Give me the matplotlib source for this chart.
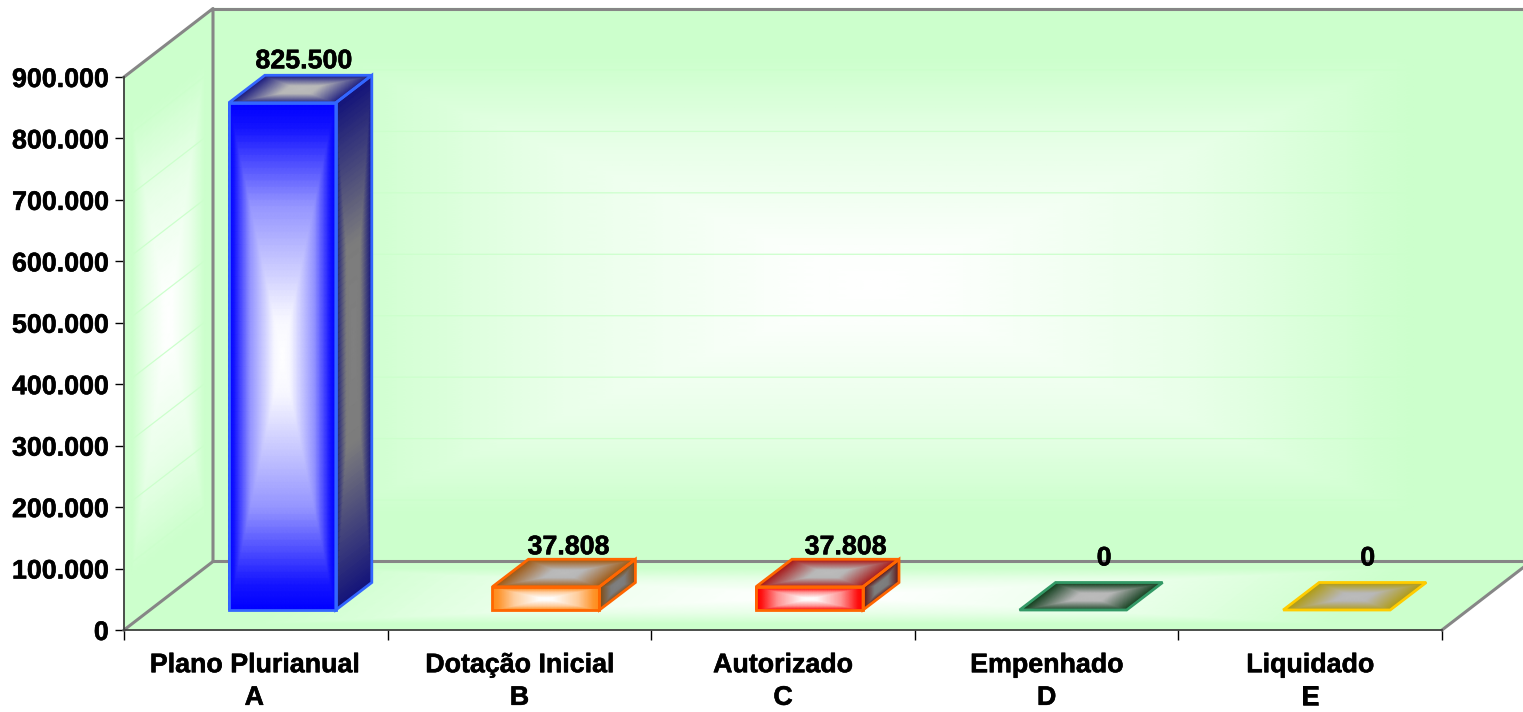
import numpy as np
import matplotlib
matplotlib.use("Agg")
import matplotlib.pyplot as plt
import matplotlib.patheffects as pe
from matplotlib.colors import LinearSegmentedColormap
from matplotlib.patches import Polygon
from matplotlib.text import Text
from matplotlib.transforms import ScaledTranslation

categories = ["Plano Plurianual\nA", "Dotação Inicial\nB", "Autorizado\nC", "Empenhado\nD", "Liquidado\nE"]
values = [825500, 37808, 37808, 0, 0]
value_labels = ["825.500", "37.808", "37.808", "0", "0"]
y_ticks = [0, 100000, 200000, 300000, 400000, 500000, 600000, 700000, 800000, 900000]

edge_colors = ["#3366ff", "#ff6600", "#ff6600", "#339966", "#ffcc00"]
front_colors = ["#0000ff", "#ff8c1a", "#ff0000", "#006633", "#c8aa00"]
side_colors = ["#14147a", "#804c14", "#601414", "#1e4a30", "#8a7a10"]
top_colors = ["#1c1c80", "#a05a14", "#a81818", "#14401f", "#b09c14"]

plt.rcParams["font.family"] = ["Liberation Sans", "DejaVu Sans"]
FS = 19.3

W, H = 1523, 712
fig = plt.figure(figsize=(W / 100, H / 100), dpi=100)
ax = fig.add_axes([124 / W, 1 - 630 / H, 1318 / W, 553 / H])
ax.patch.set_visible(False)
ax.set_xlim(0, 5)
ax.set_ylim(0, 900000)

# pixel -> data units
XU = 5 / 1318
YU = 900000 / 553
wall_dx, wall_dy = 89 * XU, 68.5 * YU
off_dx, off_dy = 26.5 * XU, 20 * YU
dep_dx, dep_dy = 36 * XU, 27.5 * YU
bar_w = 107 * XU


def mix(a, b, f):
    ca, cb = np.array(matplotlib.colors.to_rgb(a)), np.array(matplotlib.colors.to_rgb(b))
    return tuple(ca + (cb - ca) * f)


def face(p0, ex, ey, stops, z, n=80):
    # rectangular path gradient on a parallelogram
    u, v = np.meshgrid(np.linspace(0, 1, n), np.linspace(0, 1, n))
    X = p0[0] + u * ex[0] + v * ey[0]
    Y = p0[1] + u * ex[1] + v * ey[1]
    t = np.maximum(np.abs(2 * u - 1), np.abs(2 * v - 1))
    cm = LinearSegmentedColormap.from_list("f", stops)
    m = ax.pcolormesh(X, Y, t, cmap=cm, vmin=0, vmax=1, shading="gouraud", zorder=z)
    m.set_clip_on(False)


def outline(pts, color, lw, z):
    ax.add_patch(Polygon(pts, closed=True, fill=False, edgecolor=color, lw=lw, zorder=z,
                         clip_on=False, joinstyle="miter"))


green = "#ccffcc"
wall_stops = [(0, "#ffffff"), (0.12, "#fcfffc"), (0.5, "#e8ffe8"), (0.82, green), (1, green)]
ymax = 900000

# back wall, left wall, floor
face((wall_dx, wall_dy), (5, 0), (0, ymax), wall_stops, 1)
face((0, 0), (wall_dx, wall_dy), (0, ymax), wall_stops, 1)
face((0, 0), (5, 0), (wall_dx, wall_dy), wall_stops, 1)

# faint gridlines
for v in y_ticks[1:]:
    ax.plot([0, wall_dx, 5 + wall_dx], [v, v + wall_dy, v + wall_dy], color=green, lw=0.9,
            zorder=2, clip_on=False)

# wall frame
gray = "#868686"
ax.plot([0, wall_dx, wall_dx], [ymax, ymax + wall_dy, wall_dy], color=gray, lw=2.2, zorder=3, clip_on=False)
ax.plot([wall_dx, 5 + wall_dx], [ymax + wall_dy, ymax + wall_dy], color=gray, lw=2.2, zorder=3, clip_on=False)
ax.plot([0, wall_dx, 5 + wall_dx], [0, wall_dy, wall_dy], color=gray, lw=2.2, zorder=3, clip_on=False)
ax.plot([5, 5 + wall_dx], [0, wall_dy], color=gray, lw=2.2, zorder=3, clip_on=False)

# bars
label_dx = [21.5, 22.5, 36, 31, 31]
label_dy = [1, -1, -1, 11, 11]
for i, val in enumerate(values):
    x0 = i + 0.5 - bar_w / 2 + off_dx
    y0 = off_dy
    x1 = x0 + bar_w
    y1 = y0 + val
    ec = edge_colors[i]
    if val > 0:
        fc = front_colors[i]
        front_stops = [(0, "#ffffff"), (0.15, mix("#ffffff", fc, 0.03)), (0.6, mix("#ffffff", fc, 0.42)),
                       (0.9, mix("#ffffff", fc, 0.92)), (1, fc)]
        side_stops = [(0, "#808080"), (0.4, "#7c7c7c"), (1, side_colors[i])]
        face((x0, y0), (bar_w, 0), (0, val), front_stops, 5)
        face((x1, y0), (dep_dx, dep_dy), (0, val), side_stops, 5)
        outline([(x0, y0), (x1, y0), (x1, y1), (x0, y1)], ec, 2, 6)
        outline([(x1, y0), (x1 + dep_dx, y0 + dep_dy), (x1 + dep_dx, y1 + dep_dy), (x1, y1)], ec, 2, 6)
    top_stops = [(0, "#bcbcbc"), (0.3, "#b8b8b8"), (1, top_colors[i])]
    face((x0, y1), (bar_w, 0), (dep_dx, dep_dy), top_stops, 5)
    outline([(x0, y1), (x1, y1), (x1 + dep_dx, y1 + dep_dy), (x0 + dep_dx, y1 + dep_dy)], ec, 2, 6)
    ax.text(i + 0.5 + off_dx + label_dx[i] * XU, y1 + dep_dy + label_dy[i] * YU, value_labels[i],
            ha="center", va="bottom", fontsize=FS, fontweight="bold", zorder=7, clip_on=False)

for s in ["top", "right"]:
    ax.spines[s].set_visible(False)
for s in ["left", "bottom"]:
    ax.spines[s].set_color("#404040")
    ax.spines[s].set_linewidth(1.3)
    ax.spines[s].set_zorder(4)

ax.set_yticks(y_ticks)
ax.set_yticklabels([f"{v:,}".replace(",", ".") for v in y_ticks], fontsize=FS, fontweight="bold")
ax.tick_params(axis="y", length=6.5, width=1, pad=4.5, color="black")

ax.set_xticks(range(6))
ax.set_xticklabels([])
ax.tick_params(axis="x", which="major", length=7.5, width=1, color="black")
ax.set_xticks(np.arange(5) + 0.5, minor=True)
ax.set_xticklabels(categories, minor=True, fontsize=FS, fontweight="bold", linespacing=1.33)
ax.tick_params(axis="x", which="minor", length=0, pad=16)
first = ax.get_xticklabels(minor=True)[0]
first.set_transform(first.get_transform() + ScaledTranslation(-1.5 / 100, 0, fig.dpi_scale_trans))

# the original text is a bit heavier than Liberation bold
for t in ax.findobj(Text):
    t.set_path_effects([pe.withStroke(linewidth=0.4, foreground="black")])

fig.savefig("out.png", dpi=100)
